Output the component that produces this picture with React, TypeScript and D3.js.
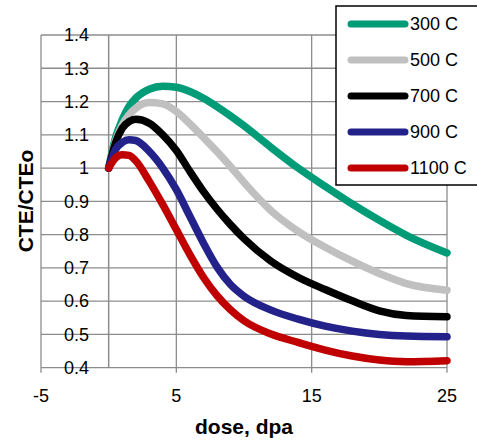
import React from "react";
import * as d3 from "d3";

// dose points (dpa) shared by all curves
const dose = [0, 0.5, 1, 1.5, 2, 3, 4, 5, 6, 7, 8, 9, 10, 12, 14, 16, 18, 20, 22, 25];

// CTE/CTEo
const c300 = [1.0, 1.09, 1.145, 1.185, 1.21, 1.237, 1.246, 1.243, 1.23, 1.21, 1.185, 1.157, 1.127, 1.062, 1.0, 0.945, 0.892, 0.843, 0.798, 0.745];
const c500 = [1.0, 1.08, 1.13, 1.16, 1.18, 1.197, 1.193, 1.17, 1.133, 1.092, 1.05, 1.005, 0.957, 0.872, 0.81, 0.762, 0.72, 0.683, 0.653, 0.633];
const c700 = [1.0, 1.075, 1.12, 1.14, 1.147, 1.135, 1.1, 1.053, 0.99, 0.93, 0.877, 0.83, 0.788, 0.72, 0.672, 0.635, 0.601, 0.571, 0.557, 0.553];
const c900 = [1.0, 1.055, 1.077, 1.085, 1.083, 1.05, 1.0, 0.935, 0.855, 0.775, 0.703, 0.65, 0.615, 0.573, 0.546, 0.525, 0.51, 0.5, 0.495, 0.493];
const c1100 = [1.0, 1.03, 1.04, 1.038, 1.022, 0.96, 0.89, 0.815, 0.74, 0.672, 0.617, 0.574, 0.541, 0.501, 0.476, 0.453, 0.435, 0.423, 0.418, 0.421];

const seriesNames = ["300 C", "500 C", "700 C", "900 C", "1100 C"];
const seriesColors = ["#009B77", "#C0C0C0", "#000000", "#22228A", "#C00000"];
const seriesValues = [c300, c500, c700, c900, c1100];

const xTicks = [-5, 5, 15, 25];
const yTicks = [0.4, 0.5, 0.6, 0.7, 0.8, 0.9, 1, 1.1, 1.2, 1.3, 1.4];

const W = 477;
const H = 440;
const font = "Liberation Sans, Arial, sans-serif";
const grid = "#8c8c8c";

export default function App() {
  const x = d3.scaleLinear().domain([-5, 25]).range([41, 447]);
  const y = d3.scaleLinear().domain([0.4, 1.4]).range([367.7, 35]);

  const line = d3
    .line<number>()
    .x((_, i) => x(dose[i]))
    .y((d) => y(d))
    .curve(d3.curveMonotoneX);

  return (
    <svg width={W} height={H} style={{ position: "absolute", left: 0, top: 0 }} fontFamily={font}>
      <rect width={W} height={H} fill="white" />

      {/* horizontal grid */}
      {yTicks.map((t) => (
        <line key={"h" + t} x1={x(-5)} x2={x(25)} y1={y(t)} y2={y(t)} stroke={grid} strokeWidth={1.3} />
      ))}
      {/* vertical grid + ticks below axis */}
      {xTicks.map((t) => (
        <line key={"v" + t} x1={x(t)} x2={x(t)} y1={y(1.4)} y2={y(0.4) + 5} stroke={grid} strokeWidth={1.3} />
      ))}
      {/* y axis at dose 0 */}
      <line x1={x(0)} x2={x(0)} y1={y(1.4)} y2={y(0.4)} stroke={grid} strokeWidth={1.5} />

      {/* tick labels */}
      {yTicks.map((t) => (
        <text key={"yl" + t} x={89} y={y(t)} dy="0.35em" textAnchor="end" fontSize={18} fill="#000">
          {d3.format("")(+t.toFixed(1))}
        </text>
      ))}
      {xTicks.map((t) => (
        <text key={"xl" + t} x={x(t)} y={402} textAnchor="middle" fontSize={18} fill="#000">
          {t}
        </text>
      ))}

      {/* curves */}
      {seriesValues.map((vals, i) => (
        <path
          key={seriesNames[i]}
          d={line(vals) || ""}
          fill="none"
          stroke={seriesColors[i]}
          strokeWidth={7.5}
          strokeLinecap="round"
          strokeLinejoin="round"
        />
      ))}

      {/* axis titles */}
      <text x={244} y={434} textAnchor="middle" fontSize={21} fontWeight="bold">
        dose, dpa
      </text>
      <text transform="translate(33,201) rotate(-90)" textAnchor="middle" fontSize={21} fontWeight="bold">
        CTE/CTEo
      </text>

      {/* legend */}
      <rect x={336} y={6} width={150} height={179} fill="white" stroke="#000" strokeWidth={1.5} />
      {seriesNames.map((name, i) => {
        const ly = 24 + i * 36;
        return (
          <g key={"lg" + name}>
            <line x1={351} x2={405} y1={ly} y2={ly} stroke={seriesColors[i]} strokeWidth={7} strokeLinecap="round" />
            <text x={410} y={ly} dy="0.35em" fontSize={18} fill="#000">
              {name}
            </text>
          </g>
        );
      })}
    </svg>
  );
}
